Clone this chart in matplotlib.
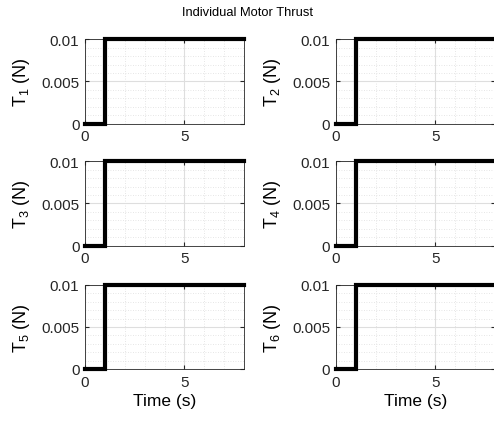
import numpy as np
import matplotlib
matplotlib.use('Agg')
import matplotlib.pyplot as plt
import matplotlib as mpl

# step input: every motor goes from 0 to 0.01 N at t = 1 s
time = [0, 1, 1, 8]
thrust = {
    1: [0, 0, 0.01, 0.01],
    2: [0, 0, 0.01, 0.01],
    3: [0, 0, 0.01, 0.01],
    4: [0, 0, 0.01, 0.01],
    5: [0, 0, 0.01, 0.01],
    6: [0, 0, 0.01, 0.01],
}
xticks = [0, 5]
yticks = [0, 0.005, 0.01]
ytick_labels = ['0', '0.005', '0.01']

plt.rcParams['font.family'] = 'Liberation Sans'
plt.rcParams['mathtext.fontset'] = 'custom'
plt.rcParams['mathtext.rm'] = 'Liberation Sans'
plt.rcParams['mathtext.it'] = 'Liberation Sans'
plt.rcParams['mathtext.default'] = 'regular'
plt.rcParams['font.size'] = 10

fig = plt.figure(figsize=(4.94, 4.27), dpi=100)

lefts = [0.172, 0.680]
bottoms = [0.7084, 0.4227, 0.1335]
w, h = 0.322, 0.197

for i in range(6):
    r, c = i // 2, i % 2
    ax = fig.add_axes([lefts[c], bottoms[r], w, h])
    ax.plot(time, thrust[i + 1], color='black', linewidth=3,
            solid_joinstyle='miter', clip_on=False, zorder=5)
    ax.set_xlim(0, 8)
    ax.set_ylim(0, 0.01)
    ax.set_xticks(xticks)
    ax.set_yticks(yticks)
    ax.set_yticklabels(ytick_labels)
    ax.xaxis.set_minor_locator(mpl.ticker.MultipleLocator(1))
    ax.yaxis.set_minor_locator(mpl.ticker.MultipleLocator(0.001))
    ax.grid(which='major', color='#dedede', linewidth=0.8)
    ax.grid(which='minor', color='#dedede', linewidth=0.6, linestyle=(0, (1, 2)))
    ax.set_axisbelow(True)
    ax.tick_params(which='major', direction='in', length=3, color='#262626',
                   labelsize=11, labelcolor='#262626', pad=4, top=True, right=True)
    ax.tick_params(which='minor', length=0)
    for s in ax.spines.values():
        s.set_color('#262626')
        s.set_linewidth(0.6)
    ax.set_ylabel('T$_{%d}$ (N)' % (i + 1), fontsize=13, labelpad=7)
    if r == 2:
        ax.set_xlabel('Time (s)', fontsize=12.5, labelpad=3)

fig.text(0.5, 0.97, 'Individual Motor Thrust', ha='center', va='center', fontsize=9.3)

plt.savefig('out.png', dpi=100)
